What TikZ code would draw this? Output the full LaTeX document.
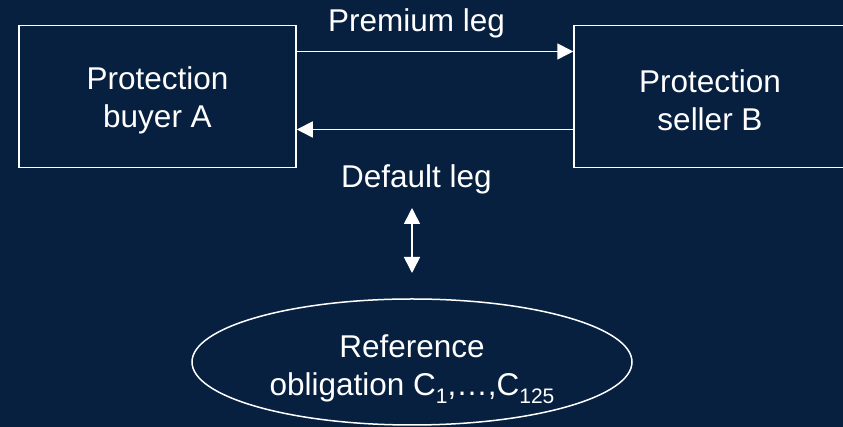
\documentclass[tikz,border=0pt]{standalone}
\usepackage{fontspec}
\setmainfont{Liberation Sans}
\usetikzlibrary{arrows.meta,shapes.geometric}
\definecolor{navy}{RGB}{7,32,64}
\newcommand\mysub[1]{\raisebox{-8.5pt}{\fontsize{21}{21}\selectfont #1}}
\begin{document}
\begin{tikzpicture}[x=1pt,y=1pt,
  txt/.style={text=white,font=\fontsize{31.5}{38}\selectfont,inner sep=0pt,align=center},
  party/.style={draw=white,line width=1.5pt,minimum width=277pt,minimum height=142pt,inner sep=0pt},
  arr/.style={draw=white,line width=1.6pt,-{Triangle[length=16pt,width=16pt]}},
  darr/.style={draw=white,line width=1.6pt,{Triangle[length=16pt,width=16pt]}-{Triangle[length=16pt,width=16pt]}}]
\fill[navy] (0,0) rectangle (843,427);
\useasboundingbox (0,0) rectangle (843,427);
% parties
\node[party] (A) at (157.5,330.5) {};
\node[party] (B) at (712.5,330.5) {};
\node[txt] (At) at (157.5,326.3) {Protection\\buyer A};
\node[txt] (Bt) at (710,326.3) {Protection\\seller B};
% legs
\draw[arr] (A.east |- 0,375.5) -- (B.west |- 0,375.5);
\draw[arr] (B.west |- 0,297.5) -- (A.east |- 0,297.5);
\node[txt,anchor=base] (prem) at (416.5,395.3) {Premium leg};
\node[txt,anchor=base] (def) at (416.5,239.7) {Default leg};
% reference obligation
\node[draw=white,line width=1.5pt,ellipse,minimum width=440pt,minimum height=126pt,inner sep=0pt] (R) at (412,65) {};
\node[txt] (Rt) at (412,58) {Reference\\obligation C\mysub{1},…,C\mysub{125}};
\coordinate (u) at (412,219);
\coordinate (d) at (412,154);
\draw[darr] (u) -- (d);
\end{tikzpicture}
\end{document}
